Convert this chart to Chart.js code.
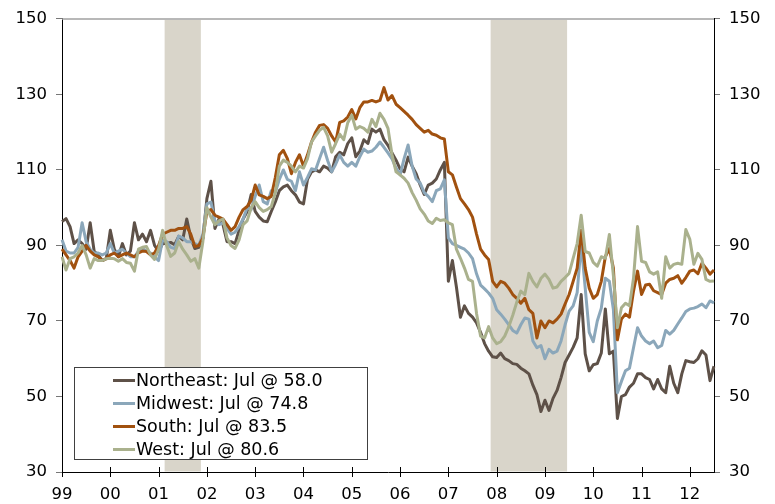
<!DOCTYPE html>
<html>
<head>
<meta charset="utf-8">
<script src="https://cdn.jsdelivr.net/npm/chart.js@4.4.1/dist/chart.umd.min.js"></script>
<style>
  html, body { margin: 0; padding: 0; background: #fff; }
  #wrap { position: relative; width: 775px; height: 504px; }
  #legend {
    position: absolute; left: 74px; top: 367px; width: 292px; height: 91px;
    border: 1px solid #404040; background: #fff;
    font-family: Verdana, "DejaVu Sans", sans-serif; font-size: 17.5px; color: #000;
  }
  .row { position: absolute; left: 0; height: 23px; line-height: 23px; white-space: nowrap; }
  .swatch { position: absolute; left: 38px; top: 10px; width: 22px; height: 3px; }
  .txt { position: absolute; left: 61px; top: 0; }
</style>
</head>
<body>
<div id="wrap">
  <canvas id="chart" width="775" height="504"></canvas>
  <div id="legend"></div>
</div>
<script>
// ==================== DATA ====================
const years = ['99','00','01','02','03','04','05','06','07','08','09','10','11','12'];
const recessions = [['2001-03', '2001-11'], ['2007-12', '2009-06']];
const seriesNames = ['Northeast', 'Midwest', 'South', 'West'];
const legendLabels = ['Northeast: Jul @ 58.0', 'Midwest: Jul @ 74.8', 'South: Jul @ 83.5', 'West: Jul @ 80.6'];
const seriesColors = ['#5E5148', '#8BA7BA', '#A1510F', '#AAB18D'];

const northeast = [
  96.3, 97.1, 95, 90.5, 91.5, 90.5, 89, 96, 88.4, 87.5, 86, 86.5,
  94, 89, 87, 90.5, 87.5, 88.5, 96, 91.5, 93, 91, 94, 90,
  88.4, 90.5, 90.5, 90.8, 90.2, 92.4, 91.5, 97, 92, 89.2, 89.5, 91.8,
  102.4, 107, 94.5, 97, 95.5, 91, 91, 90.5, 94, 97, 99, 103.5,
  99, 97.5, 96.5, 96.3, 99, 101.5, 104.5, 105.5, 106, 104.5, 103.4, 101.5,
  101, 107.5, 109.5, 110, 109.5, 111, 110.5, 109.5, 113.5, 114.7, 114, 117,
  118.5, 113.5, 115, 118, 117, 120.8, 120, 120.8, 118, 116.5, 114.5, 112.6,
  110.3, 109.5, 113.4, 111, 109, 106, 103.5, 106, 106.5, 107.6, 110, 112,
  80.5, 86, 79, 71, 74, 72, 71, 69.5, 67, 64, 62, 60.5,
  60.3, 61.5, 60, 59.5, 58.7, 58.5, 57.5, 56.8, 56, 53, 50.5, 46,
  49, 46.3, 49.5, 51.6, 55, 59, 61, 63, 65.5, 77, 61.3, 56.8,
  58.4, 58.7, 61.5, 73.2, 61.3, 62, 44.2, 50, 50.5, 52.5, 53.5, 56,
  56, 55, 54.5, 52, 54.5, 52, 51, 58, 53.5, 51, 56, 59.5,
  59.2, 59, 60, 62.1, 61, 54.2, 58
];
const midwest = [
  91.5, 88.5, 88, 88, 89.5, 96, 91, 89, 88, 88, 87.5, 88,
  90.5, 88, 88.5, 89, 88, 87, 87, 88.5, 89.2, 88.5, 88, 87,
  86, 91.5, 91, 89.5, 89.2, 92.5, 92, 91, 91, 90.5, 90, 93,
  101, 101.5, 96.5, 95.5, 96, 94.5, 93, 93.5, 95, 97, 100, 99.5,
  103, 106, 101.6, 101, 104.5, 104, 107.5, 110, 107.5, 107, 104.5, 109.5,
  106, 108, 110.3, 110, 113, 116, 112.5, 109.5, 111.5, 114, 112, 111,
  112, 111, 113.5, 115.5, 114.7, 115, 116, 117.4, 116, 114.5, 112.9, 110.5,
  108.7, 113, 116.6, 111, 107.6, 106.5, 104, 103, 101.6, 104.5, 105, 107.4,
  92, 90.5, 90, 89.5, 89, 88, 86.5, 82.5, 79.5, 78.5, 77.4, 76,
  73, 71.8, 70.5, 69, 67.5, 66.8, 69, 70.8, 70.5, 64.7, 62.9, 63.5,
  60, 62.5, 61.5, 62, 64.7, 69, 72.6, 74, 77.5, 90.5, 78.7, 67,
  64.5, 70, 73.4, 81.3, 80.5, 73, 51, 54, 56.8, 57.5, 62.9, 68.2,
  66, 64.7, 64, 64.7, 62.9, 63.5, 67.5, 66.5, 67.5, 69.2, 70.8, 72.5,
  73.2, 73.4, 73.8, 74.5, 73.5, 75.3, 74.8
];
const south = [
  89, 87.5, 86, 84, 87, 88.5, 90, 88.5, 87.5, 87, 86, 86.5,
  87.5, 88, 87, 87.5, 88, 87.5, 87, 88, 88.5, 88.4, 87.5, 88,
  90, 93, 93.5, 94, 94, 94.5, 94.5, 95, 93, 89.7, 90, 92,
  99, 99.5, 98, 97.5, 97, 95.5, 94, 95, 97.5, 99.5, 100.3, 102,
  106, 103.4, 103, 102.4, 103, 108, 114, 115.2, 113, 109, 112, 114,
  111, 114, 117.4, 120, 121.8, 122, 121, 119, 117.4, 122.6, 123, 124,
  126, 123.5, 126.5, 128, 128, 128.4, 128, 128.4, 131.8, 128.5, 129.7, 127.4,
  126.5, 125.5, 124.5, 123.4, 122, 121, 120, 120.5, 119.5, 119.2, 118.5, 118.2,
  109.5, 108.7, 105.5, 102.4, 101, 99.5, 97.5, 93, 89, 87.5, 86.3, 80.5,
  79, 80.5, 80, 78.7, 77, 76, 74.7, 76, 73, 72, 65.5, 70,
  68.2, 70, 69.5, 70.5, 71.8, 74.5, 77, 80.5, 84, 94, 84, 78.7,
  76, 77, 80.5, 87, 89.2, 84, 65, 70.5, 71.8, 71, 77.9, 83.2,
  77, 79.5, 79.7, 78, 77.5, 77, 80, 81, 81.3, 82, 80, 81.5,
  83.2, 83.5, 82.5, 85.3, 84, 82.4, 83.5
];
const west = [
  87, 83.5, 86.5, 87, 88, 90, 87.5, 84, 86.5, 86, 86, 86.5,
  86.6, 86.5, 85.8, 86.5, 85.5, 85.3, 83.2, 89, 89.5, 89.7, 87.5, 86.3,
  89, 94, 90, 87.1, 88, 91, 89, 87.5, 85.8, 86.5, 84, 91,
  100, 97.5, 95.5, 96.5, 97, 92, 90, 89.2, 91.5, 95.5, 96.5, 100,
  101.6, 100, 99, 99.5, 100.3, 104, 111, 112.6, 112, 111, 109.5, 111,
  110.5, 113, 117.4, 119, 120.5, 121.3, 119, 114.7, 117, 119.5, 118, 122.5,
  124.5, 120.8, 121.5, 121, 120, 123.4, 121.5, 125, 123.4, 121, 114, 109.5,
  108.7, 107.8, 106.5, 104, 102, 99.7, 98.3, 96.5, 95.8, 97.2, 96.6, 96.8,
  96, 95.5, 89, 86.6, 84, 81, 80.5, 72, 66, 65.5, 68.5, 65.5,
  64, 64.5, 66, 68.5, 71.5, 75, 77.9, 77, 82.6, 80.5, 79, 81.3,
  82.4, 81, 78.7, 79, 80.5, 81.5, 82.6, 86.6, 90.5, 98, 88.4, 88,
  85.5, 84.5, 87, 86.6, 92.9, 82, 68.2, 73.5, 74.7, 74, 81.3, 95,
  85.8, 85.5, 83, 82.4, 83, 76, 87, 84, 85, 85.3, 85, 94.2,
  91.6, 85, 87.9, 86.3, 81, 80.5, 80.6
];
const seriesData = [northeast, midwest, south, west];

// monthly category labels, Jan 1999 .. Jul 2012
const labels = [];
years.forEach(y => {
  const full = (y === '99' ? '19' : '20') + y;
  for (let m = 1; m <= 12; m++) labels.push(full + '-' + String(m).padStart(2, '0'));
});
labels.length = northeast.length;

const FONT = { family: 'Verdana, "DejaVu Sans", sans-serif', size: 16.5 };

// ==================== PLUGIN: recession bars, top rule, x tick marks ====================
const decor = {
  id: 'decor',
  beforeDatasetsDraw(chart) {
    const { ctx, chartArea: a, scales: { x } } = chart;
    ctx.save();
    ctx.fillStyle = '#D9D5CA';
    recessions.forEach(([s, e]) => {
      const x0 = x.getPixelForValue(labels.indexOf(s) - 0.5);
      const x1 = x.getPixelForValue(labels.indexOf(e) + 0.5);
      ctx.fillRect(x0, a.top + 1, x1 - x0, a.bottom - a.top - 1.5);
    });
    ctx.restore();
  },
  afterDraw(chart) {
    const { ctx, chartArea: a, scales: { x } } = chart;
    ctx.save();
    ctx.strokeStyle = '#A0A0A0';
    ctx.lineWidth = 1.5;
    ctx.beginPath();
    ctx.moveTo(a.left, a.top);
    ctx.lineTo(a.right, a.top);
    ctx.stroke();
    ctx.strokeStyle = '#000';
    ctx.lineWidth = 1;
    ctx.beginPath();
    for (let i = 0; i < labels.length; i += 12) {
      const px = Math.round(x.getPixelForValue(i)) + 0.5;
      ctx.moveTo(px, a.bottom - 5);
      ctx.lineTo(px, a.bottom + 5);
    }
    ctx.stroke();
    ctx.restore();
  }
};

// ==================== CHART ====================
const yAxis = (position, width) => ({
  position,
  min: 30, max: 150,
  afterFit: s => { s.width = width; },
  border: { color: '#000', width: 1 },
  grid: { drawOnChartArea: false, color: '#777', tickLength: 6 },
  ticks: { stepSize: 20, padding: 9, color: '#000', font: FONT }
});

new Chart(document.getElementById('chart').getContext('2d'), {
  type: 'line',
  data: {
    labels,
    datasets: seriesData.map((d, i) => ({
      label: seriesNames[i], data: d,
      borderColor: seriesColors[i], backgroundColor: seriesColors[i],
      borderWidth: 3, pointRadius: 0, tension: 0,
      borderJoinStyle: 'round', order: 3 - i
    }))
  },
  options: {
    responsive: false, animation: false, events: [],
    layout: { padding: { top: 16, left: 0, right: 0, bottom: 0 } },
    plugins: { legend: { display: false }, tooltip: { enabled: false } },
    scales: {
      x: {
        afterFit: s => { s.height = 32; },
        border: { color: '#000', width: 1 },
        grid: { display: false },
        ticks: {
          autoSkip: false, maxRotation: 0, padding: 5, color: '#000', font: FONT,
          callback: (v, i) => (i % 12 === 0 ? years[i / 12] : null)
        }
      },
      y: yAxis('left', 62),
      y2: yAxis('right', 61)
    }
  },
  plugins: [decor]
});

// ==================== LEGEND (html) ====================
document.getElementById('legend').innerHTML = legendLabels.map((t, i) =>
  `<div class="row" style="top:${1 + i * 23}px"><div class="swatch" style="background:${seriesColors[i]}"></div><span class="txt">${t}</span></div>`
).join('');
</script>
</body>
</html>
